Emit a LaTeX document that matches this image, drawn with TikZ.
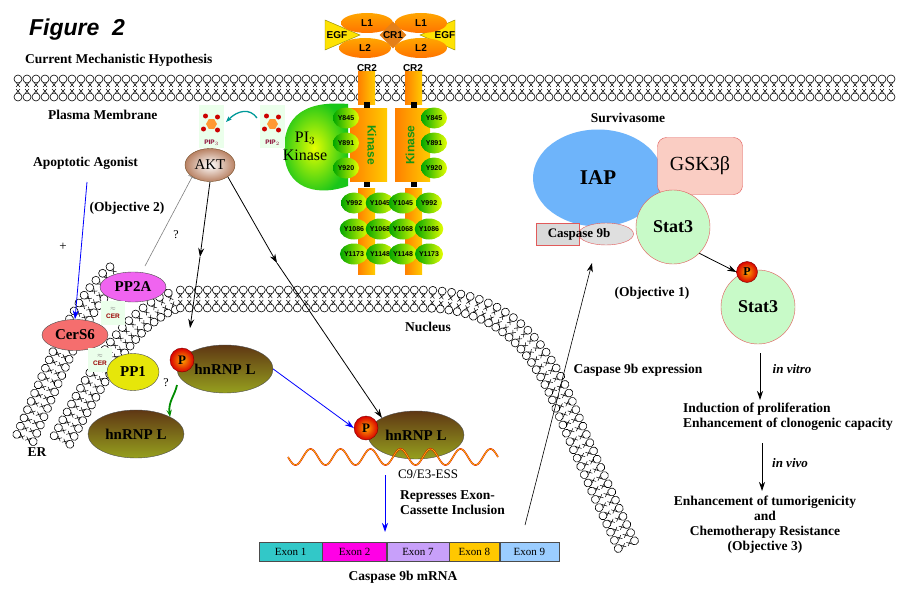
\documentclass[tikz,border=0pt]{standalone}
\usepackage{fontspec}
\setmainfont{Liberation Serif}
\newfontfamily\sansf{Liberation Sans}
\usetikzlibrary{positioning,decorations.markings,shapes.geometric,arrows.meta}

\definecolor{iapBlue}{RGB}{110,180,250}
\definecolor{gskPink}{RGB}{250,205,195}
\definecolor{statGreen}{RGB}{200,250,200}
\definecolor{edgeRed}{RGB}{225,90,90}
\definecolor{kinGreen}{RGB}{20,150,20}
\definecolor{hnTop}{RGB}{95,55,20}
\definecolor{hnMid}{RGB}{165,175,35}
\definecolor{hnBot}{RGB}{150,160,30}

\tikzset{
  membrane/.style={decorate,decoration={markings,
    mark=between positions 0 and 1 step 9pt with {
      \draw[line width=0.5pt] (-2pt,5.5pt)--(2pt,1pt) (2pt,5.5pt)--(-2pt,1pt)
        (-2pt,-5.5pt)--(2pt,-1pt) (2pt,-5.5pt)--(-2pt,-1pt);
      \draw[line width=0.6pt,fill=white] (0,9pt) circle (4pt) (0,-9pt) circle (4pt);}}},
  txt/.style={inner sep=0pt,font=\bfseries\fontsize{13.5}{15}\selectfont},
  mol/.style={ellipse,draw=black!70,inner sep=0pt,font=\bfseries\fontsize{15}{16}\selectfont},
  hnrnp/.style={mol,minimum width=96pt,minimum height=48pt,top color=hnTop,middle color=hnMid,bottom color=hnBot},
  phos/.style={circle,draw=red!50!black,inner sep=0pt,minimum size=24pt,inner color=orange!70!yellow,outer color=red!85!black,font=\bfseries\fontsize{13}{14}\selectfont},
  ytag/.style={ellipse,inner sep=0pt,minimum width=26pt,minimum height=21pt,left color=green!65!black,right color=yellow!90!green,font=\sansf\bfseries\fontsize{7}{8}\selectfont},
  bar/.style={left color=orange,right color=yellow!60!orange,draw=none},
  lobe/.style={ellipse,minimum width=52pt,minimum height=20pt,inner sep=0pt,top color=orange!70!yellow,bottom color=orange!90!red,font=\sansf\bfseries\fontsize{10}{11}\selectfont},
  pip/.style={fill=green!8,draw=none},
  arr/.style={-{Stealth[length=9pt,width=6pt]},line width=0.8pt},
  exon/.style={draw=black!70,minimum height=19pt,inner sep=0pt,font=\fontsize{11}{12}\selectfont,anchor=west}
}

\begin{document}
\begin{tikzpicture}[x=1pt,y=-1pt]
\path[use as bounding box,fill=white] (0,0) rectangle (897,594);

% titles
\node[inner sep=0pt,font=\sansf\bfseries\itshape\fontsize{23}{25}\selectfont] (fig) at (77,30) {Figure~~2};
\node[txt,anchor=west] (hyp) at (25,60) {Current Mechanistic Hypothesis};

% membranes
\path[membrane] (18,88) -- (897,88);
\path[membrane] (25,438) .. controls (55,370) and (80,300) .. (118,272);
\path[membrane] (62,440) .. controls (100,370) and (130,315) .. (178,299) -- (420,299)
  .. controls (490,299) and (530,330) .. (560,395) .. controls (585,455) and (605,500) .. (628,548);

\node[txt,anchor=west] (pm) at (48,115) {Plasma Membrane};
\node[txt,anchor=west] (ag) at (33,163) {Apoptotic Agonist};
\node[txt] (obj2) at (127,208) {(Objective 2)};
\node[txt] (nuc) at (428,327) {Nucleus};
\node[txt] (er) at (37,452) {ER};

% PI3 kinase and PIPs
\path[inner color=yellow!90!green,outer color=green!75!black!90] (348,104) -- (348,186)
  .. controls (320,196) and (290,190) .. (285,160) .. controls (280,120) and (300,100) .. (348,104);
\node[inner sep=0pt,align=center,font=\fontsize{16}{18}\selectfont] (pi3) at (305,146) {PI$_3$\\Kinase};
\foreach \x/\n/\s in {199/pipa/3,260/pipb/2}{
  \path[pip] (\x,105) rectangle ++(25,43);
  \node[regular polygon,regular polygon sides=6,fill=orange!80,inner sep=0pt,minimum size=11pt] (\n) at (\x+12.5,124) {};
  \foreach \dx/\dy in {-6/-8,6/-7,-8/5,6/6}
    \fill[red!80!black] (\x+12.5+\dx,124+\dy) circle (2.5pt);
  \node[text=purple!70!black,inner sep=0pt,font=\sansf\bfseries\fontsize{6.5}{7}\selectfont] at (\x+12.5,143) {PIP$_\s$};
}
\coordinate (tealS) at (257,118);
\coordinate (tealE) at (226,122);
\draw[-{Stealth[length=6pt]},teal!80!cyan,line width=1.3pt] (tealS) .. controls (250,108) and (238,110) .. (tealE);

% EGF receptor
\draw[fill=yellow!85!orange,draw=olive] (325,20) -- (360,35) -- (325,50) -- cycle;
\draw[fill=yellow!85!orange,draw=olive] (455,20) -- (420,35) -- (455,50) -- cycle;
\node[lobe] (l1a) at (367,23) {L1};
\node[lobe] (l2a) at (365,48) {L2};
\node[lobe] (l1b) at (421,23) {L1};
\node[lobe] (l2b) at (421,48) {L2};
\node[diamond,fill=orange!60!brown,minimum width=26pt,minimum height=22pt,inner sep=0pt,font=\sansf\bfseries\fontsize{10}{11}\selectfont] (cr1) at (393,35) {CR1};
\node[inner sep=0pt,font=\sansf\bfseries\fontsize{10}{11}\selectfont] (egfa) at (337,35) {EGF};
\node[inner sep=0pt,font=\sansf\bfseries\fontsize{10}{11}\selectfont] (egfb) at (445,35) {EGF};
\foreach \x in {358,405}{
  \path[bar] (\x,72) rectangle ++(17,32);
  \path[bar] (\x,188) rectangle ++(17,86);
  \fill (\x+5.5,102) rectangle ++(6,6);
  \fill (\x+5.5,181) rectangle ++(6,6);
}
\path[bar] (350,108) rectangle (387,181);
\path[bar] (395,108) rectangle (430,181);
\node[inner sep=0pt,font=\sansf\bfseries\fontsize{10}{11}\selectfont] (cr2a) at (367,68) {CR2};
\node[inner sep=0pt,font=\sansf\bfseries\fontsize{10}{11}\selectfont] (cr2b) at (413,68) {CR2};
\node[rotate=-90,text=kinGreen,inner sep=0pt,font=\sansf\bfseries\fontsize{12}{13}\selectfont] (kina) at (372,145) {Kinase};
\node[rotate=90,text=kinGreen,inner sep=0pt,font=\sansf\bfseries\fontsize{12}{13}\selectfont] (kinb) at (410,145) {Kinase};
\foreach \y/\t in {118/Y845,143/Y891,168/Y920}{
  \node[ytag] at (346,\y) {\t};
  \node[ytag] at (434,\y) {\t};
}
\foreach \y/\a/\b in {203/Y992/Y1045,229/Y1086/Y1068,254/Y1173/Y1148}{
  \node[ytag] at (354,\y) {\a};
  \node[ytag] at (380,\y) {\b};
  \node[ytag] at (403,\y) {\b};
  \node[ytag] at (429,\y) {\a};
}

\node[mol,minimum width=50pt,minimum height=33pt,inner color=white,outer color={rgb,255:red,185;green,130;blue,100},draw=brown!60!black,font=\fontsize{15}{16}\selectfont] (akt) at (210,165) {AKT};

% left cytoplasm
\node[mol,fill={rgb,255:red,240;green,100;blue,240},minimum width=66pt,minimum height=30pt] (pp2a) at (133,287) {PP2A};
\node[mol,fill={rgb,255:red,245;green,110;blue,110},minimum width=66pt,minimum height=31pt] (cers) at (75,335) {CerS6};
\foreach \x/\y/\n in {113/313/cera,100/360/cerb}{
  \node[fill=green!8,minimum size=24pt,inner sep=0pt,align=center,text=red!60!black,font=\sansf\bfseries\fontsize{6.5}{7}\selectfont] (\n) at (\x,\y) {\textcolor{gray}{$\approx$}\\[1pt]CER};
}
\node[mol,fill={rgb,255:red,230;green,230;blue,10},minimum width=52pt,minimum height=37pt] (pp1) at (133,372) {PP1};
\node[hnrnp] (hna) at (225,369) {hnRNP L};
\node[phos] (pa) at (182,360) {P};
\node[hnrnp] (hnb) at (136,434) {hnRNP L};
\node[inner sep=0pt,font=\fontsize{12}{13}\selectfont] (qa) at (166,383) {?};
\node[inner sep=0pt,font=\fontsize{12}{13}\selectfont] (qb) at (176,235) {?};
\node[inner sep=0pt,font=\fontsize{13}{14}\selectfont] (plus) at (63,247) {+};

\coordinate (agS) at (87,182);
\draw[arr,blue] (agS) -- (cers.north);
\coordinate (tS) at (145,266);
\draw[gray,line width=0.6pt,-{Bar[width=8pt]}] (tS) -- (akt.south west);
\draw[-{Stealth[length=7pt]},green!55!black,line width=1.8pt] (177,385) .. controls (175,395) and (168,402) .. (hnb.north east);

% AKT targets
\coordinate (m1) at (200,257);
\coordinate (e1) at (190,328);
\coordinate (m2) at (277,263);
\draw[arr] (akt.south) -- (m1);
\draw[arr] (m1) -- (e1);
\draw[arr] (akt.south east) -- (m2);

% nuclear hnRNP
\node[hnrnp] (hnc) at (416,435) {hnRNP L};
\node[phos] (pc) at (366,428) {P};
\draw[arr] (m2) -- (hnc.north west);
\draw[arr,blue] (hna.east) -- (pc.west);
\draw[red!85!black,line width=1.6pt] plot[domain=288:498,samples=240] (\x,{457+8*sin((\x-288)*12)});
\draw[yellow!80!orange,line width=0.6pt] plot[domain=288:498,samples=240] (\x,{457+8*sin((\x-288)*12)});
\node[inner sep=0pt,font=\fontsize{13}{14}\selectfont] (ess) at (428,474) {C9/E3-ESS};
\coordinate (bS) at (385,475);
\coordinate (bE) at (385,532);
\draw[arr,blue] (bS) -- (bE);
\node[txt,anchor=north west,align=left] (rep) at (400,490) {Represses Exon-\\Cassette Inclusion};

% exons
\node[exon,fill={rgb,255:red,50;green,200;blue,200},minimum width=63pt] (ex1) at (259,552) {Exon 1};
\node[exon,fill={rgb,255:red,255;green,0;blue,230},minimum width=64pt] (ex2) at (ex1.east) {Exon 2};
\node[exon,fill={rgb,255:red,200;green,160;blue,250},minimum width=62pt] (ex7) at (ex2.east) {Exon 7};
\node[exon,fill={rgb,255:red,255;green,200;blue,0},minimum width=50pt] (ex8) at (ex7.east) {Exon 8};
\node[exon,fill={rgb,255:red,155;green,205;blue,255},minimum width=59pt] (ex9) at (ex8.east) {Exon 9};
\node[txt] (mrna) at (403,577) {Caspase 9b mRNA};

% survivasome
\node[txt] (surv) at (628,118) {Survivasome};
\node[ellipse,fill=iapBlue,minimum width=130pt,minimum height=97pt,inner sep=0pt,font=\bfseries\fontsize{21}{23}\selectfont] (iap) at (598,178) {IAP};
\node[draw=edgeRed,fill=gskPink,rounded corners=9pt,minimum width=85pt,minimum height=57pt,font=\fontsize{20}{22}\selectfont] (gsk) at (700,166) {GSK3β};
\node[circle,draw=edgeRed,fill=statGreen,minimum size=74pt,inner sep=0pt,font=\bfseries\fontsize{18}{20}\selectfont] (stata) at (673,227) {Stat3};
\node[ellipse,draw=edgeRed,fill=gray!25,minimum width=55pt,minimum height=22pt] (c9e) at (606,234) {};
\node[draw=edgeRed,fill=gray!30,minimum width=43pt,minimum height=22pt,inner sep=0pt] (c9r) at (558,234) {};
\node[inner sep=0pt,font=\bfseries\fontsize{13}{14}\selectfont] (c9t) at (579,234) {Caspase 9b};
\node[circle,draw=edgeRed,fill=statGreen,minimum size=74pt,inner sep=0pt,font=\bfseries\fontsize{18}{20}\selectfont] (statb) at (758,307) {Stat3};
\node[phos,minimum size=21pt,font=\bfseries\fontsize{12}{13}\selectfont] (pb) at (747,272) {P};
\draw[arr] (stata.south east) -- (pb.west);

\node[txt] (obj1) at (652,293) {(Objective 1)};
\node[txt] (expr) at (638,370) {Caspase 9b expression};
\coordinate (upS) at (525,525);
\coordinate (upE) at (592,263);
\draw[arr,line width=0.6pt] (upS) -- (upE);

% outcomes
\coordinate (vS) at (760,353);
\node[txt,anchor=north west,align=left] (ind) at (683,403) {Induction of proliferation\\Enhancement of clonogenic capacity};
\draw[arr] (vS) -- (760,400);
\node[inner sep=0pt,font=\bfseries\itshape\fontsize{13}{14}\selectfont] (vitro) at (792,369) {in vitro};
\coordinate (wS) at (762,443);
\coordinate (wE) at (762,491);
\draw[arr] (wS) -- (wE);
\node[inner sep=0pt,font=\bfseries\itshape\fontsize{13}{14}\selectfont] (vivo) at (790,463) {in vivo};
\node[txt,align=center,anchor=north] (tum) at (765,496) {Enhancement of tumorigenicity\\and\\Chemotherapy Resistance\\(Objective 3)};
\end{tikzpicture}
\end{document}
